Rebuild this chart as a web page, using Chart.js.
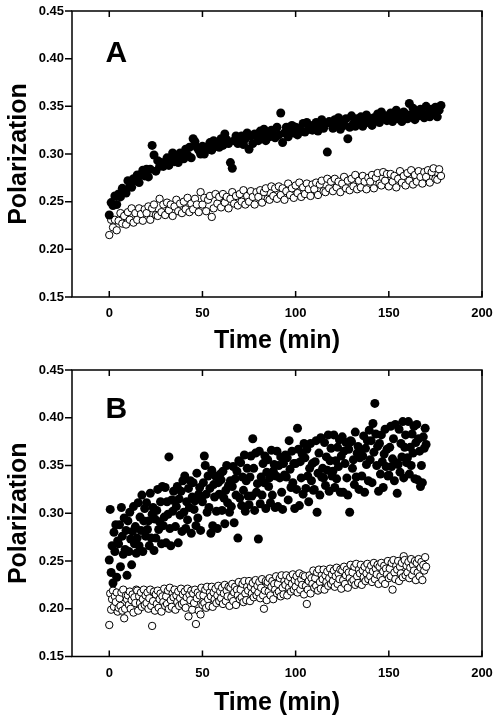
<!DOCTYPE html>
<html>
<head>
<meta charset="utf-8">
<script src="https://cdn.jsdelivr.net/npm/chart.js@4/dist/chart.umd.min.js"></script>
<style>
  html, body { margin: 0; padding: 0; background: #fff; }
  #wrap { position: relative; width: 495px; height: 722px; }
  canvas { position: absolute; left: 0; }
  #chartA { top: 0; }
  #chartB { top: 360px; }
</style>
</head>
<body>
<div id="wrap">
  <canvas id="chartA" width="495" height="361"></canvas>
  <canvas id="chartB" width="495" height="362"></canvas>
</div>
<script>
// axis ticks
const xTicks = [0, 50, 100, 150, 200];
const yTicks = [0.15, 0.20, 0.25, 0.30, 0.35, 0.40, 0.45];

// panel A: time (min) and polarization
const timeA = [
  0,1,2,3,4,5,6,7,8,9,10,11,12,13,14,15,16,17,18,19,
  20,21,22,23,24,25,26,27,28,29,30,31,32,33,34,35,36,37,38,39,
  40,41,42,43,44,45,46,47,48,49,50,51,52,53,54,55,56,57,58,59,
  60,61,62,63,64,65,66,67,68,69,70,71,72,73,74,75,76,77,78,79,
  80,81,82,83,84,85,86,87,88,89,90,91,92,93,94,95,96,97,98,99,
  100,101,102,103,104,105,106,107,108,109,110,111,112,113,114,115,116,117,118,119,
  120,121,122,123,124,125,126,127,128,129,130,131,132,133,134,135,136,137,138,139,
  140,141,142,143,144,145,146,147,148,149,150,151,152,153,154,155,156,157,158,159,
  160,161,162,163,164,165,166,167,168,169,170,171,172,173,174,175,176,177,178
];
const filledA = [
  0.236,0.249,0.246,0.256,0.247,0.258,0.255,0.264,0.262,0.259,
  0.272,0.266,0.265,0.274,0.272,0.278,0.270,0.278,0.283,0.277,
  0.284,0.276,0.284,0.309,0.299,0.282,0.293,0.287,0.291,0.287,
  0.289,0.296,0.288,0.294,0.301,0.292,0.298,0.291,0.301,0.299,
  0.295,0.305,0.299,0.307,0.296,0.316,0.313,0.307,0.304,0.300,
  0.308,0.300,0.307,0.305,0.312,0.304,0.314,0.308,0.311,0.307,
  0.316,0.309,0.321,0.315,0.311,0.291,0.285,0.314,0.319,0.311,
  0.313,0.319,0.310,0.316,0.322,0.305,0.319,0.311,0.321,0.319,
  0.314,0.324,0.318,0.326,0.314,0.322,0.318,0.325,0.321,0.317,
  0.328,0.320,0.343,0.312,0.322,0.328,0.318,0.325,0.330,0.322,
  0.328,0.320,0.327,0.324,0.332,0.323,0.333,0.326,0.330,0.325,
  0.326,0.333,0.324,0.329,0.336,0.327,0.332,0.302,0.334,0.332,
  0.327,0.336,0.331,0.338,0.326,0.334,0.330,0.337,0.316,0.328,
  0.340,0.332,0.329,0.337,0.334,0.339,0.329,0.336,0.341,0.333,
  0.337,0.330,0.338,0.335,0.342,0.333,0.344,0.337,0.340,0.335,
  0.337,0.343,0.334,0.339,0.346,0.337,0.342,0.334,0.344,0.342,
  0.337,0.353,0.341,0.348,0.336,0.344,0.340,0.347,0.343,0.338,
  0.350,0.342,0.339,0.347,0.344,0.349,0.339,0.346,0.351
];
const openA = [
  0.215,0.231,0.223,0.231,0.220,0.230,0.238,0.227,0.235,0.226,
  0.239,0.231,0.243,0.228,0.238,0.231,0.243,0.237,0.230,0.242,
  0.238,0.245,0.231,0.243,0.247,0.236,0.235,0.253,0.239,0.247,
  0.236,0.249,0.241,0.247,0.235,0.245,0.252,0.240,0.248,0.238,
  0.250,0.242,0.254,0.239,0.248,0.242,0.253,0.247,0.239,0.260,
  0.247,0.254,0.240,0.252,0.256,0.234,0.243,0.258,0.248,0.255,
  0.244,0.258,0.249,0.255,0.243,0.253,0.260,0.248,0.256,0.246,
  0.258,0.250,0.262,0.247,0.256,0.250,0.261,0.255,0.247,0.260,
  0.255,0.262,0.249,0.260,0.264,0.253,0.252,0.266,0.256,0.264,
  0.253,0.266,0.257,0.264,0.252,0.261,0.269,0.257,0.264,0.254,
  0.267,0.259,0.270,0.255,0.265,0.258,0.269,0.263,0.256,0.268,
  0.263,0.270,0.257,0.268,0.272,0.261,0.260,0.274,0.264,0.271,
  0.261,0.274,0.265,0.271,0.260,0.269,0.276,0.264,0.272,0.262,
  0.274,0.266,0.278,0.263,0.272,0.265,0.277,0.271,0.263,0.275,
  0.271,0.278,0.264,0.275,0.280,0.269,0.267,0.281,0.272,0.279,
  0.266,0.279,0.271,0.277,0.265,0.274,0.282,0.270,0.277,0.267,
  0.280,0.272,0.283,0.268,0.278,0.271,0.282,0.276,0.269,0.281,
  0.276,0.283,0.270,0.281,0.285,0.274,0.273,0.284,0.277
];

// panel B: time (min) and polarization
const timeB = [
  0,0.5,1,1.5,2,2.5,3,3.5,4,4.5,5,5.5,6,6.5,7,7.5,8,8.5,9,9.5,
  10,10.5,11,11.5,12,12.5,13,13.5,14,14.5,15,15.5,16,16.5,17,17.5,18,18.5,19,19.5,
  20,20.5,21,21.5,22,22.5,23,23.5,24,24.5,25,25.5,26,26.5,27,27.5,28,28.5,29,29.5,
  30,30.5,31,31.5,32,32.5,33,33.5,34,34.5,35,35.5,36,36.5,37,37.5,38,38.5,39,39.5,
  40,40.5,41,41.5,42,42.5,43,43.5,44,44.5,45,45.5,46,46.5,47,47.5,48,48.5,49,49.5,
  50,50.5,51,51.5,52,52.5,53,53.5,54,54.5,55,55.5,56,56.5,57,57.5,58,58.5,59,59.5,
  60,60.5,61,61.5,62,62.5,63,63.5,64,64.5,65,65.5,66,66.5,67,67.5,68,68.5,69,69.5,
  70,70.5,71,71.5,72,72.5,73,73.5,74,74.5,75,75.5,76,76.5,77,77.5,78,78.5,79,79.5,
  80,80.5,81,81.5,82,82.5,83,83.5,84,84.5,85,85.5,86,86.5,87,87.5,88,88.5,89,89.5,
  90,90.5,91,91.5,92,92.5,93,93.5,94,94.5,95,95.5,96,96.5,97,97.5,98,98.5,99,99.5,
  100,100.5,101,101.5,102,102.5,103,103.5,104,104.5,105,105.5,106,106.5,107,107.5,108,108.5,109,109.5,
  110,110.5,111,111.5,112,112.5,113,113.5,114,114.5,115,115.5,116,116.5,117,117.5,118,118.5,119,119.5,
  120,120.5,121,121.5,122,122.5,123,123.5,124,124.5,125,125.5,126,126.5,127,127.5,128,128.5,129,129.5,
  130,130.5,131,131.5,132,132.5,133,133.5,134,134.5,135,135.5,136,136.5,137,137.5,138,138.5,139,139.5,
  140,140.5,141,141.5,142,142.5,143,143.5,144,144.5,145,145.5,146,146.5,147,147.5,148,148.5,149,149.5,
  150,150.5,151,151.5,152,152.5,153,153.5,154,154.5,155,155.5,156,156.5,157,157.5,158,158.5,159,159.5,
  160,160.5,161,161.5,162,162.5,163,163.5,164,164.5,165,165.5,166,166.5,167,167.5,168,168.5,169,169.5,
  170
];
const filledB = [
  0.251,0.304,0.238,0.266,0.227,0.280,0.260,0.288,0.233,0.271,
  0.268,0.288,0.244,0.306,0.276,0.257,0.295,0.262,0.282,0.235,
  0.292,0.260,0.301,0.273,0.246,0.281,0.307,0.268,0.286,0.258,
  0.274,0.311,0.266,0.296,0.282,0.319,0.260,0.292,0.305,0.276,
  0.311,0.283,0.292,0.266,0.321,0.274,0.299,0.306,0.261,0.294,
  0.274,0.303,0.325,0.283,0.291,0.312,0.268,0.328,0.287,0.296,
  0.327,0.269,0.312,0.299,0.359,0.284,0.266,0.314,0.302,0.323,
  0.313,0.286,0.307,0.328,0.269,0.315,0.298,0.323,0.281,0.334,
  0.301,0.339,0.284,0.312,0.293,0.326,0.306,0.334,0.279,0.317,
  0.332,0.304,0.313,0.287,0.342,0.295,0.320,0.327,0.282,0.315,
  0.312,0.332,0.360,0.350,0.320,0.301,0.339,0.306,0.326,0.279,
  0.345,0.287,0.330,0.317,0.339,0.302,0.284,0.332,0.320,0.341,
  0.335,0.303,0.344,0.316,0.289,0.324,0.350,0.311,0.329,0.301,
  0.334,0.307,0.328,0.349,0.290,0.336,0.319,0.344,0.274,0.355,
  0.316,0.353,0.308,0.338,0.324,0.361,0.302,0.334,0.347,0.318,
  0.309,0.338,0.360,0.318,0.378,0.347,0.303,0.363,0.322,0.331,
  0.273,0.365,0.310,0.338,0.319,0.352,0.332,0.360,0.305,0.343,
  0.356,0.328,0.337,0.311,0.366,0.319,0.344,0.351,0.306,0.339,
  0.365,0.307,0.350,0.337,0.359,0.322,0.304,0.352,0.340,0.361,
  0.338,0.358,0.314,0.376,0.346,0.327,0.365,0.332,0.352,0.305,
  0.352,0.325,0.389,0.367,0.308,0.354,0.337,0.362,0.320,0.373,
  0.358,0.326,0.367,0.339,0.312,0.347,0.373,0.334,0.352,0.324,
  0.325,0.354,0.376,0.301,0.342,0.363,0.319,0.379,0.338,0.347,
  0.337,0.374,0.329,0.359,0.345,0.382,0.323,0.355,0.368,0.339,
  0.344,0.382,0.327,0.355,0.336,0.369,0.349,0.377,0.322,0.360,
  0.380,0.322,0.365,0.352,0.374,0.337,0.319,0.367,0.301,0.376,
  0.375,0.347,0.356,0.330,0.385,0.338,0.363,0.370,0.325,0.358,
  0.366,0.339,0.360,0.381,0.322,0.368,0.351,0.376,0.334,0.387,
  0.356,0.376,0.332,0.394,0.364,0.415,0.383,0.350,0.370,0.323,
  0.373,0.341,0.382,0.354,0.327,0.362,0.388,0.349,0.367,0.339,
  0.340,0.369,0.391,0.349,0.357,0.378,0.334,0.393,0.353,0.321,
  0.351,0.388,0.343,0.373,0.359,0.396,0.337,0.369,0.382,0.353,
  0.358,0.396,0.341,0.369,0.350,0.383,0.363,0.391,0.336,0.374,
  0.393,0.335,0.378,0.365,0.328,0.350,0.332,0.380,0.368,0.389,
  0.372
];
const openB = [
  0.183,0.216,0.199,0.210,0.219,0.202,0.213,0.207,0.217,0.197,
  0.201,0.211,0.203,0.217,0.198,0.220,0.190,0.200,0.214,0.210,
  0.214,0.204,0.218,0.200,0.209,0.215,0.196,0.212,0.206,0.220,
  0.219,0.198,0.213,0.206,0.217,0.202,0.210,0.220,0.204,0.214,
  0.206,0.217,0.200,0.211,0.220,0.203,0.182,0.208,0.218,0.198,
  0.215,0.205,0.219,0.201,0.210,0.216,0.197,0.213,0.207,0.221,
  0.203,0.213,0.205,0.219,0.200,0.222,0.209,0.202,0.216,0.212,
  0.220,0.199,0.214,0.207,0.218,0.203,0.211,0.221,0.205,0.215,
  0.207,0.218,0.201,0.212,0.221,0.192,0.215,0.209,0.219,0.199,
  0.216,0.206,0.220,0.184,0.211,0.217,0.198,0.214,0.194,0.222,
  0.204,0.214,0.206,0.220,0.201,0.223,0.210,0.203,0.217,0.213,
  0.223,0.202,0.217,0.210,0.221,0.206,0.214,0.224,0.208,0.218,
  0.211,0.222,0.205,0.216,0.225,0.208,0.219,0.213,0.223,0.203,
  0.222,0.212,0.226,0.208,0.217,0.223,0.204,0.220,0.214,0.228,
  0.210,0.220,0.212,0.226,0.207,0.229,0.216,0.209,0.223,0.219,
  0.229,0.208,0.223,0.216,0.227,0.212,0.220,0.230,0.214,0.224,
  0.217,0.228,0.211,0.222,0.231,0.214,0.200,0.219,0.229,0.209,
  0.228,0.218,0.232,0.214,0.223,0.229,0.210,0.226,0.220,0.234,
  0.216,0.226,0.218,0.232,0.213,0.235,0.222,0.215,0.229,0.225,
  0.235,0.214,0.229,0.222,0.233,0.218,0.226,0.236,0.220,0.230,
  0.223,0.234,0.217,0.228,0.237,0.220,0.231,0.225,0.235,0.215,
  0.234,0.224,0.205,0.220,0.229,0.235,0.216,0.232,0.226,0.240,
  0.222,0.232,0.224,0.238,0.219,0.241,0.228,0.221,0.235,0.231,
  0.241,0.220,0.235,0.228,0.239,0.224,0.232,0.242,0.226,0.236,
  0.229,0.240,0.223,0.234,0.243,0.226,0.237,0.231,0.241,0.221,
  0.240,0.230,0.244,0.226,0.235,0.241,0.222,0.238,0.232,0.246,
  0.228,0.238,0.230,0.244,0.225,0.247,0.234,0.227,0.241,0.237,
  0.246,0.225,0.240,0.233,0.244,0.229,0.237,0.247,0.231,0.241,
  0.234,0.245,0.228,0.239,0.248,0.231,0.242,0.236,0.246,0.226,
  0.244,0.234,0.248,0.230,0.239,0.245,0.226,0.242,0.236,0.250,
  0.232,0.242,0.234,0.248,0.220,0.251,0.238,0.231,0.245,0.241,
  0.250,0.229,0.244,0.237,0.248,0.233,0.255,0.251,0.235,0.245,
  0.238,0.249,0.232,0.243,0.252,0.235,0.246,0.240,0.250,0.230,
  0.248,0.238,0.252,0.234,0.243,0.249,0.230,0.246,0.240,0.254,
  0.244
];

const FONT = "Arial, 'Liberation Sans', sans-serif";

function pairs(xs, ys) {
  return ys.map((v, i) => ({ x: xs[i], y: v }));
}

// box frame, inward x ticks (top+bottom), outward y ticks, panel letter
const frameTicks = {
  id: "frameTicks",
  afterDatasetsDraw(chart, args, opts) {
    const { ctx, chartArea: a, scales: { x, y } } = chart;
    ctx.save();
    ctx.strokeStyle = "#000";
    ctx.lineWidth = 1.5;
    ctx.strokeRect(a.left, a.top, a.width, a.height);
    ctx.beginPath();
    xTicks.forEach(v => {
      const px = x.getPixelForValue(v);
      ctx.moveTo(px, a.bottom); ctx.lineTo(px, a.bottom - 6);
      ctx.moveTo(px, a.top); ctx.lineTo(px, a.top + 6);
    });
    yTicks.forEach(v => {
      const py = y.getPixelForValue(v);
      ctx.moveTo(a.left, py); ctx.lineTo(a.left - 7, py);
    });
    ctx.stroke();
    ctx.fillStyle = "#000";
    ctx.font = "bold 30px " + FONT;
    ctx.textBaseline = "alphabetic";
    ctx.fillText(opts.letter, x.getPixelForValue(-2), y.getPixelForValue(opts.letterY));
    ctx.restore();
  }
};

function makeChart(id, time, filled, open, letter, letterY, padTop, xHeight, titlePad) {
  return new Chart(document.getElementById(id), {
    type: "scatter",
    data: {
      datasets: [
        {
          label: "filled",
          data: pairs(time, filled),
          pointRadius: 4.5,
          pointBackgroundColor: "#000",
          pointBorderWidth: 0
        },
        {
          label: "open",
          data: pairs(time, open),
          pointRadius: 3.7,
          pointBackgroundColor: "#fff",
          pointBorderColor: "#000",
          pointBorderWidth: 1
        }
      ]
    },
    options: {
      responsive: false,
      animation: false,
      devicePixelRatio: 1,
      layout: { padding: { top: padTop, right: 13, left: 0, bottom: 0 } },
      plugins: {
        legend: { display: false },
        tooltip: { enabled: false },
        frameTicks: { letter: letter, letterY: letterY }
      },
      scales: {
        x: {
          type: "linear",
          min: -20,
          max: 200,
          afterBuildTicks: s => { s.ticks = xTicks.map(v => ({ value: v })); },
          afterFit: s => { s.height = xHeight; s.paddingLeft = 0; s.paddingRight = 0; },
          grid: { display: false, drawTicks: false },
          border: { display: false },
          ticks: {
            color: "#000",
            padding: 9,
            maxRotation: 0,
            font: { family: FONT, size: 13, weight: "bold" }
          },
          title: {
            display: true,
            text: "Time (min)",
            color: "#000",
            padding: { top: 0, bottom: titlePad },
            font: { family: FONT, size: 25, weight: "bold" }
          }
        },
        y: {
          type: "linear",
          min: 0.15,
          max: 0.45,
          afterBuildTicks: s => { s.ticks = yTicks.map(v => ({ value: v })); },
          afterFit: s => { s.width = 72; s.paddingTop = 0; s.paddingBottom = 0; },
          grid: { display: false, drawTicks: false },
          border: { display: false },
          ticks: {
            color: "#000",
            padding: 8,
            font: { family: FONT, size: 13, weight: "bold" },
            callback: v => v.toFixed(2)
          },
          title: {
            display: true,
            text: "Polarization",
            color: "#000",
            padding: { top: 4, bottom: 0 },
            font: { family: FONT, size: 25, weight: "bold" }
          }
        }
      }
    },
    plugins: [frameTicks]
  });
}

makeChart("chartA", timeA, filledA, openA, "A", 0.396, 11, 64, 5);
makeChart("chartB", timeB, filledB, openB, "B", 0.400, 10, 65.5, 4);
</script>
</body>
</html>
